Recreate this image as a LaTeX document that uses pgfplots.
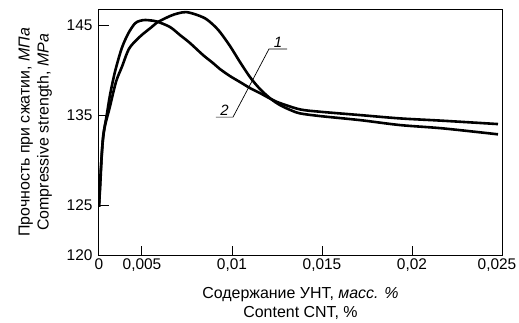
\documentclass[border=0pt]{standalone}
\usepackage{fontspec}
\setmainfont{Liberation Sans}
\usepackage{pgfplots}
\pgfplotsset{compat=1.18}
\begin{document}
\begin{tikzpicture}
\useasboundingbox (-99bp,-67.5bp) rectangle (420bp,255.5bp);
\begin{axis}[
  at={(0,0)}, anchor=south west,
  scale only axis, width=403bp, height=246.2bp,
  xmin=0.0026111, xmax=0.025, ymin=119.4, ymax=146.75,
  x filter/.expression={x<0.005 ? 0.0026111+0.47778*x : x},
  scaled x ticks=false, scaled y ticks=false,
  xtick={0.0026111,0.005,0.01,0.015,0.02,0.025},
  xticklabels={0,{0,005},{0,01},{0,015},{0,02},{\hspace*{-10bp}0,025}},
  ytick={119.4,125,135,145},
  yticklabels={120,125,135,145},
  xtick pos=bottom, ytick pos=left,
  tick align=inside, major tick length=10bp,
  axis line style={line width=1bp},
  every tick/.style={line width=1bp, black},
  /pgf/number format/assume math mode=true,
  tick label style={font=\fontsize{15.5}{18}\selectfont},
  yticklabel style={xshift=-3bp},
  xlabel={Содержание УНТ, \textit{масс. \%}\\Content CNT, \%},
  ylabel={Прочность при сжатии, \textit{МПа}\\Compressive strength, \textit{MPa}},
  label style={font=\fontsize{16}{19}\selectfont, align=center},
  xlabel style={yshift=-9bp},
  ylabel style={yshift=8bp},
]
% curve 2 (earlier, lower peak)
\addplot[black, line width=2.6bp, smooth] coordinates {
(0,124.8) (0.000174,128.33) (0.000326,130.56) (0.0005,132.78) (0.0009,135.0)
(0.00128,137.22) (0.00186,139.81) (0.00264,142.41) (0.00341,144.08) (0.00419,145.19)
(0.00477,145.47) (0.005167,145.56) (0.005444,145.52) (0.005833,145.39) (0.006556,144.78)
(0.007111,143.89) (0.007667,143.0) (0.008389,141.67) (0.008944,140.78) (0.009333,140.11)
(0.009889,139.33) (0.010444,138.67) (0.011,138.0) (0.011556,137.44) (0.012167,136.78)
(0.012667,136.33) (0.013778,135.63) (0.014889,135.37) (0.017111,135.0) (0.019333,134.63)
(0.021722,134.37) (0.024778,134.0)
};
% curve 1 (later, higher peak)
\addplot[black, line width=2.6bp, smooth] coordinates {
(0,124.8) (0.000174,127.78) (0.000349,131.11) (0.00064,133.56) (0.00122,135.74)
(0.00198,138.7) (0.00267,140.37) (0.00352,142.41) (0.00477,143.72) (0.0055,144.72)
(0.005833,145.28) (0.006556,146.0) (0.007,146.3) (0.007444,146.44) (0.007944,146.2)
(0.0085,145.75) (0.008944,145.05) (0.009333,144.22) (0.009889,142.67) (0.010444,140.89)
(0.011,139.22) (0.011556,137.89) (0.012167,136.78) (0.012667,136.11) (0.013222,135.58)
(0.013778,135.19) (0.014889,134.89) (0.017111,134.44) (0.019333,133.89) (0.021722,133.52)
(0.024778,132.86)
};
\draw[line width=0.7bp] (rel axis cs:0.4665,0.8388) -- (rel axis cs:0.4218,0.8388) -- (rel axis cs:0.3325,0.5621) -- (rel axis cs:0.2903,0.5621);
\node[anchor=south, inner sep=1bp, font=\fontsize{15}{18}\selectfont\itshape] at (rel axis cs:0.4441,0.8388) {1};
\node[anchor=south, inner sep=1bp, font=\fontsize{15}{18}\selectfont\itshape] at (rel axis cs:0.3114,0.5621) {2};
\end{axis}
\end{tikzpicture}
\end{document}
